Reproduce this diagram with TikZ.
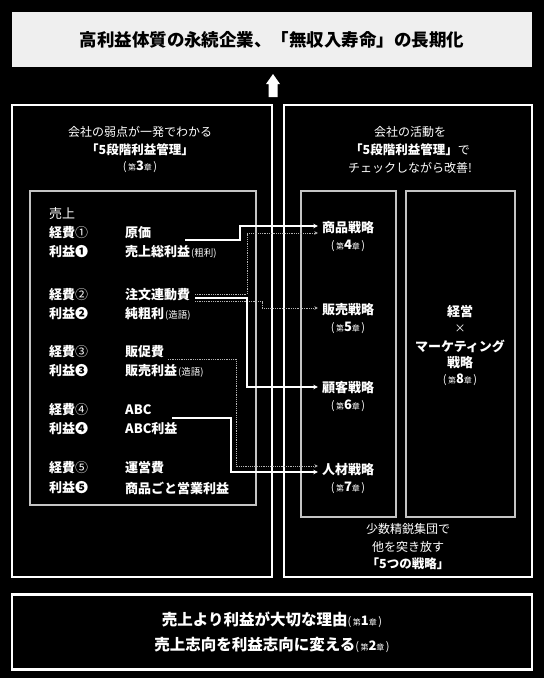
\documentclass[tikz,border=0pt]{standalone}
\usepackage{fontspec}
\setmainfont{Noto Sans CJK JP}
\usetikzlibrary{positioning,arrows.meta,calc}
\definecolor{paper}{HTML}{EFEFEF}
\definecolor{frame}{HTML}{C4C4C4}
\definecolor{dots}{HTML}{B4B4B4}
\newcommand{\chapno}[1]{{\mdseries\fontsize{11}{11}\selectfont(\hspace{1.5pt}{\fontsize{8}{8}\selectfont 第}{\bfseries\fontsize{13}{13}\selectfont #1}{\fontsize{8}{8}\selectfont 章}\hspace{1.5pt})}}
\newcommand{\note}[1]{{\mdseries\fontsize{9.5}{9.5}\selectfont\hspace{1pt}(#1)}}

\begin{document}
\begin{tikzpicture}[x=1pt,y=-1pt,
  txt/.style={text=white,inner sep=1pt,font=\fontsize{12}{12}\selectfont},
  lbl/.style={txt,anchor=west,font=\fontsize{13}{13}\selectfont\bfseries},
  strat/.style={txt,font=\fontsize{13}{13}\selectfont\bfseries},
  outer/.style={draw=white,line width=2.5pt},
  inner/.style={draw=frame,line width=1.2pt},
  link/.style={draw=white,line width=1.8pt,-{Stealth[length=4.5pt,width=4.5pt]}},
  hint/.style={draw=dots,line width=0.9pt,dash pattern=on 0.9pt off 0.9pt,-{Stealth[length=3.5pt,width=3.5pt]}}
]
\useasboundingbox (0,0) rectangle (544,678);
\fill[black] (0,0) rectangle (544,678);
% ---- goal on top
\node[fill=paper,minimum width=520pt,minimum height=55pt,inner sep=0pt,
      font=\fontsize{17.5}{18}\selectfont\bfseries] (goal) at (272,39.5)
  {高利益体質の永続企業、「無収入寿命」の長期化};
\fill[white] (268.5,97) -- (268.5,84) -- (266,84) -- (273,74) -- (280,84)
  -- (277.5,84) -- (277.5,97) -- cycle;
% ---- panel A : five step profit
\draw[outer] (12,105) rectangle (272,577);
\node[txt] (lh1) at (140,132) {会社の弱点が一発でわかる};
\node[txt,font=\fontsize{12.5}{12.5}\selectfont\bfseries] (lh2) at (140,150) {「5段階利益管理」};
\node[txt] (lh3) at (140,167) {\chapno{3}};
\draw[inner] (30,191) rectangle (256,505);
\node[lbl,font=\fontsize{13}{13}\selectfont] (sales) at (48,214) {売上};
\foreach \ya/\yb/\ca/\cb [count=\i] in {233/252/①/❶, 295/314/②/❷, 352/371/③/❸,
                                         410/429/④/❹, 468/488/⑤/❺} {
  \node[lbl] (cost\i) at (48,\ya) {経費{\mdseries\ca}};
  \node[lbl] (gain\i) at (48,\yb) {利益\cb};
}
\node[lbl] (genka)   at (124,233) {原価};
\node[lbl] (arari)   at (124,252) {売上総利益\note{粗利}};
\node[lbl] (chumon)  at (124,295) {注文連動費};
\node[lbl] (junari)  at (124,314) {純粗利\note{造語}};
\node[lbl] (hansoku) at (124,352) {販促費};
\node[lbl] (hanri)   at (124,371) {販売利益\note{造語}};
\node[lbl] (abc)     at (124,410) {ABC};
\node[lbl] (abcri)   at (124,429) {ABC利益};
\node[lbl] (unei)    at (124,468) {運営費};
\node[lbl] (eigyo)   at (124,488) {商品ごと営業利益};
% ---- panel B : strategies
\draw[outer] (284,105) rectangle (532,577);
\node[txt] (rh1) at (410,132) {会社の活動を};
\node[txt] (rh2) at (410,150) {{\bfseries\fontsize{12.5}{12.5}\selectfont 「5段階利益管理」}で};
\node[txt] (rh3) at (410,168) {チェックしながら改善!};
\draw[inner] (301,191) rectangle (396,517);
\draw[inner] (406,191) rectangle (515,517);
\foreach \y/\n/\t/\c in {228/shohin/商品戦略/4, 310/hanbai/販売戦略/5,
                         388/kokyaku/顧客戦略/6, 470/jinzai/人材戦略/7} {
  \node[strat] (\n) at (348,\y) {\t};
  \node[txt] (\n-ch) at (348,\y+18) {\chapno{\c}};
}
\node[strat] (keiei) at (460,312) {経営};
\node[txt,font=\fontsize{11}{11}\selectfont] (times) at (460,329) {×};
\node[strat] (mkt) at (460,346) {マーケティング};
\node[strat] (senryaku) at (460,363) {戦略};
\node[txt] (keiei-ch) at (460,380) {\chapno{8}};
\node[txt] (rf1) at (408,529) {少数精鋭集団で};
\node[txt] (rf2) at (408,547) {他を突き放す};
\node[txt,font=\fontsize{12.5}{12.5}\selectfont\bfseries] (rf3) at (408,564) {「5つの戦略」};
% ---- links from costs to strategies
\coordinate (s1) at (185,240);
\coordinate (s2) at (195,298);
\coordinate (s3) at (172,418);
\coordinate (d1) at (195,294);
\coordinate (d2) at (195,301.5);
\coordinate (d3) at (168,359);
\draw[hint] (d1) -- (247,294) -- (247,233) -- ($(shohin.west)+(-3,5)$);
\draw[hint] (d2) -- (262,301.5) -- (262,308) -- ($(hanbai.west)+(-3,-2)$);
\draw[hint] (d3) -- (236,359) -- (236,466) -- ($(jinzai.west)+(-3,-4)$);
\draw[link] (s1) -- (240,240) -- (240,226) -- ($(shohin.west)+(-3,-2)$);
\draw[link] (s2) -- (247,298) -- (247,387) -- ($(kokyaku.west)+(-3,-1)$);
\draw[link] (s3) -- (231,418) -- (231,472) -- ($(jinzai.west)+(-3,2)$);
% ---- base
\node[draw=white,line width=2.5pt,minimum width=520pt,minimum height=75pt,
      text=white,align=center,font=\fontsize{15.5}{25}\selectfont\bfseries] (base) at (272,632)
  {売上より利益が大切な理由\chapno{1}\\売上志向を利益志向に変える\chapno{2}};
\end{tikzpicture}
\end{document}
